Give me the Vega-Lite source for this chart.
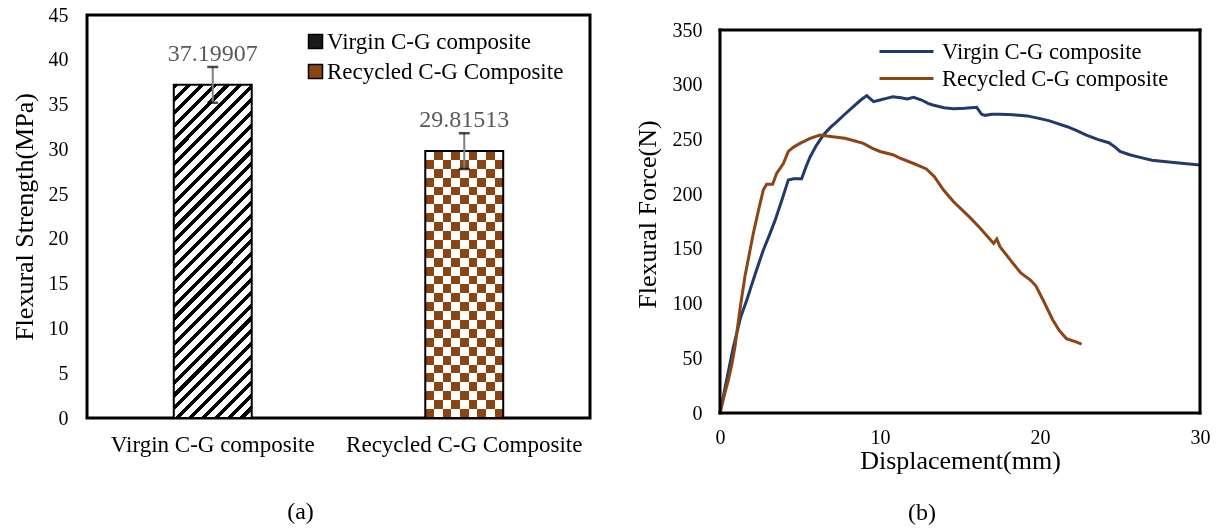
{
  "$schema": "https://vega.github.io/schema/vega-lite/v6.json",
  "padding": {"left": 9, "top": 3, "right": 0, "bottom": 0},
  "spacing": 42,
  "resolve": {"scale": {"color": "independent"}, "legend": {"color": "independent"}},
  "config": {
    "font": "Liberation Serif",
    "view": {"stroke": "black", "strokeWidth": 3},
    "axis": {"grid": false, "domain": false, "ticks": false, "labelColor": "black", "titleColor": "black", "titleFontWeight": "normal", "labelFont": "Liberation Serif", "titleFont": "Liberation Serif"},
    "legend": {"labelFont": "Liberation Serif", "labelColor": "black"},
    "title": {"font": "Liberation Serif", "fontWeight": "normal", "color": "black"}
  },
  "datasets": {
    "bars": [
      {"name": "Virgin C-G composite", "value": 37.19907, "lo": 35.2, "hi": 39.2, "label": "37.19907"},
      {"name": "Recycled C-G Composite", "value": 29.81513, "lo": 27.8, "hi": 31.8, "label": "29.81513"}
    ],
    "frame": [
      {"x": 0, "x2": 0, "y": 0, "y2": 350},
      {"x": 30, "x2": 30, "y": 0, "y2": 350},
      {"x": 0, "x2": 30, "y": 0, "y2": 0},
      {"x": 0, "x2": 30, "y": 350, "y2": 350}
    ],
    "curves": [
      {"series": "Virgin C-G composite", "x": 0, "y": 0},
      {"series": "Virgin C-G composite", "x": 0.3, "y": 22},
      {"series": "Virgin C-G composite", "x": 0.83, "y": 60},
      {"series": "Virgin C-G composite", "x": 1.3, "y": 88},
      {"series": "Virgin C-G composite", "x": 1.67, "y": 103},
      {"series": "Virgin C-G composite", "x": 2.2, "y": 127},
      {"series": "Virgin C-G composite", "x": 2.71, "y": 149},
      {"series": "Virgin C-G composite", "x": 3.1, "y": 163},
      {"series": "Virgin C-G composite", "x": 3.44, "y": 176},
      {"series": "Virgin C-G composite", "x": 3.9, "y": 196},
      {"series": "Virgin C-G composite", "x": 4.27, "y": 213},
      {"series": "Virgin C-G composite", "x": 4.6, "y": 214},
      {"series": "Virgin C-G composite", "x": 5.1, "y": 214},
      {"series": "Virgin C-G composite", "x": 5.4, "y": 226},
      {"series": "Virgin C-G composite", "x": 5.63, "y": 234},
      {"series": "Virgin C-G composite", "x": 6.0, "y": 244},
      {"series": "Virgin C-G composite", "x": 6.46, "y": 254},
      {"series": "Virgin C-G composite", "x": 6.9, "y": 261},
      {"series": "Virgin C-G composite", "x": 7.29, "y": 266},
      {"series": "Virgin C-G composite", "x": 7.8, "y": 273},
      {"series": "Virgin C-G composite", "x": 8.33, "y": 280},
      {"series": "Virgin C-G composite", "x": 8.8, "y": 286},
      {"series": "Virgin C-G composite", "x": 9.17, "y": 290},
      {"series": "Virgin C-G composite", "x": 9.4, "y": 287},
      {"series": "Virgin C-G composite", "x": 9.6, "y": 284.5},
      {"series": "Virgin C-G composite", "x": 10.0, "y": 286},
      {"series": "Virgin C-G composite", "x": 10.4, "y": 287.5},
      {"series": "Virgin C-G composite", "x": 10.8, "y": 289},
      {"series": "Virgin C-G composite", "x": 11.3, "y": 288},
      {"series": "Virgin C-G composite", "x": 11.7, "y": 287},
      {"series": "Virgin C-G composite", "x": 12.1, "y": 288.5},
      {"series": "Virgin C-G composite", "x": 12.6, "y": 286},
      {"series": "Virgin C-G composite", "x": 13.0, "y": 283},
      {"series": "Virgin C-G composite", "x": 13.3, "y": 281.5},
      {"series": "Virgin C-G composite", "x": 14.0, "y": 279},
      {"series": "Virgin C-G composite", "x": 14.6, "y": 278},
      {"series": "Virgin C-G composite", "x": 15.3, "y": 278.5},
      {"series": "Virgin C-G composite", "x": 16.04, "y": 279.3},
      {"series": "Virgin C-G composite", "x": 16.2, "y": 276},
      {"series": "Virgin C-G composite", "x": 16.35, "y": 273},
      {"series": "Virgin C-G composite", "x": 16.56, "y": 272},
      {"series": "Virgin C-G composite", "x": 17.0, "y": 273},
      {"series": "Virgin C-G composite", "x": 17.5, "y": 273},
      {"series": "Virgin C-G composite", "x": 18.3, "y": 272.5},
      {"series": "Virgin C-G composite", "x": 19.2, "y": 271.5},
      {"series": "Virgin C-G composite", "x": 20.0, "y": 269},
      {"series": "Virgin C-G composite", "x": 20.6, "y": 267},
      {"series": "Virgin C-G composite", "x": 21.2, "y": 264},
      {"series": "Virgin C-G composite", "x": 21.7, "y": 261.6},
      {"series": "Virgin C-G composite", "x": 22.3, "y": 258},
      {"series": "Virgin C-G composite", "x": 22.9, "y": 254},
      {"series": "Virgin C-G composite", "x": 23.6, "y": 250},
      {"series": "Virgin C-G composite", "x": 24.3, "y": 247},
      {"series": "Virgin C-G composite", "x": 24.7, "y": 243},
      {"series": "Virgin C-G composite", "x": 25.0, "y": 239},
      {"series": "Virgin C-G composite", "x": 25.6, "y": 236},
      {"series": "Virgin C-G composite", "x": 26.25, "y": 233.6},
      {"series": "Virgin C-G composite", "x": 27.0, "y": 231},
      {"series": "Virgin C-G composite", "x": 27.9, "y": 229.7},
      {"series": "Virgin C-G composite", "x": 29.0, "y": 228},
      {"series": "Virgin C-G composite", "x": 30.0, "y": 226.6},
      {"series": "Recycled C-G  composite", "x": 0, "y": 0},
      {"series": "Recycled C-G  composite", "x": 0.25, "y": 15},
      {"series": "Recycled C-G  composite", "x": 0.52, "y": 30},
      {"series": "Recycled C-G  composite", "x": 0.75, "y": 45},
      {"series": "Recycled C-G  composite", "x": 0.94, "y": 61},
      {"series": "Recycled C-G  composite", "x": 1.25, "y": 95},
      {"series": "Recycled C-G  composite", "x": 1.56, "y": 125},
      {"series": "Recycled C-G  composite", "x": 2.08, "y": 164},
      {"series": "Recycled C-G  composite", "x": 2.4, "y": 185},
      {"series": "Recycled C-G  composite", "x": 2.71, "y": 204},
      {"series": "Recycled C-G  composite", "x": 2.92, "y": 209},
      {"series": "Recycled C-G  composite", "x": 3.29, "y": 209},
      {"series": "Recycled C-G  composite", "x": 3.54, "y": 219},
      {"series": "Recycled C-G  composite", "x": 3.96, "y": 228},
      {"series": "Recycled C-G  composite", "x": 4.27, "y": 239},
      {"series": "Recycled C-G  composite", "x": 4.6, "y": 243},
      {"series": "Recycled C-G  composite", "x": 5.0, "y": 246.4},
      {"series": "Recycled C-G  composite", "x": 5.63, "y": 251},
      {"series": "Recycled C-G  composite", "x": 6.25, "y": 254},
      {"series": "Recycled C-G  composite", "x": 6.8, "y": 253},
      {"series": "Recycled C-G  composite", "x": 7.3, "y": 252},
      {"series": "Recycled C-G  composite", "x": 7.8, "y": 251},
      {"series": "Recycled C-G  composite", "x": 8.33, "y": 249},
      {"series": "Recycled C-G  composite", "x": 8.96, "y": 246.4},
      {"series": "Recycled C-G  composite", "x": 9.5, "y": 242},
      {"series": "Recycled C-G  composite", "x": 10.0, "y": 239},
      {"series": "Recycled C-G  composite", "x": 10.8, "y": 236},
      {"series": "Recycled C-G  composite", "x": 11.25, "y": 233},
      {"series": "Recycled C-G  composite", "x": 12.1, "y": 228},
      {"series": "Recycled C-G  composite", "x": 12.9, "y": 223},
      {"series": "Recycled C-G  composite", "x": 13.4, "y": 216},
      {"series": "Recycled C-G  composite", "x": 13.96, "y": 204},
      {"series": "Recycled C-G  composite", "x": 14.6, "y": 193},
      {"series": "Recycled C-G  composite", "x": 15.6, "y": 179},
      {"series": "Recycled C-G  composite", "x": 16.25, "y": 169},
      {"series": "Recycled C-G  composite", "x": 17.1, "y": 155},
      {"series": "Recycled C-G  composite", "x": 17.3, "y": 159},
      {"series": "Recycled C-G  composite", "x": 17.5, "y": 152},
      {"series": "Recycled C-G  composite", "x": 18.3, "y": 137},
      {"series": "Recycled C-G  composite", "x": 18.8, "y": 128},
      {"series": "Recycled C-G  composite", "x": 19.4, "y": 121.5},
      {"series": "Recycled C-G  composite", "x": 19.75, "y": 116},
      {"series": "Recycled C-G  composite", "x": 20.2, "y": 103},
      {"series": "Recycled C-G  composite", "x": 20.8, "y": 85},
      {"series": "Recycled C-G  composite", "x": 21.2, "y": 75.5},
      {"series": "Recycled C-G  composite", "x": 21.65, "y": 68},
      {"series": "Recycled C-G  composite", "x": 22.25, "y": 65},
      {"series": "Recycled C-G  composite", "x": 22.6, "y": 63}
    ]
  },
  "hconcat": [
    {
      "width": 503,
      "height": 403,
      "title": {"text": "(a)", "orient": "bottom", "anchor": "middle", "frame": "bounds", "fontSize": 24, "offset": 44},
      "data": {"name": "bars"},
      "encoding": {
        "x": {"field": "name", "type": "nominal",
          "scale": {"domain": ["Virgin C-G composite", "Recycled C-G Composite"], "paddingInner": 0.69, "paddingOuter": 0.345},
          "axis": {"title": null, "labelAngle": 0, "labelFontSize": 23, "labelPadding": 15, "labelLimit": 0}},
        "y": {"field": "value", "type": "quantitative",
          "scale": {"domain": [0, 45], "nice": false},
          "axis": {"title": "Flexural Strength(MPa)", "values": [0, 5, 10, 15, 20, 25, 30, 35, 40, 45], "labelFontSize": 20, "labelPadding": 19, "titleFontSize": 26, "titlePadding": 11}}
      },
      "layer": [
        {
          "mark": {"type": "point", "shape": "square", "filled": true, "opacity": 0},
          "encoding": {
            "color": {"field": "name", "type": "nominal",
              "scale": {"domain": ["Virgin C-G composite", "Recycled C-G Composite"], "range": ["#1a1a1a", "#8B4513"]},
              "legend": {"title": null, "orient": "none", "legendX": 217, "legendY": 15, "padding": 0, "symbolType": "square", "symbolSize": 196, "labelFontSize": 23, "labelOffset": 0, "rowPadding": 6, "labelLimit": 0,
                "encoding": {"symbols": {
                  "opacity": {"value": 1},
                  "stroke": {"value": "black"},
                  "strokeWidth": {"value": 1.5}
                }}}
            }
          }
        },
        {
          "transform": [{"filter": "datum.name === 'Virgin C-G composite'"}],
          "mark": {"type": "bar", "stroke": "black", "strokeWidth": 2,
            "fill": {"gradient": "linear", "x1": 0, "y1": 0, "x2": 0.274, "y2": 1.17, "stops": [
              {"offset": 0, "color": "#000"}, {"offset": 0.0125, "color": "#000"}, {"offset": 0.0125, "color": "#fff"}, {"offset": 0.03125, "color": "#fff"},
              {"offset": 0.03125, "color": "#000"}, {"offset": 0.04375, "color": "#000"}, {"offset": 0.04375, "color": "#fff"}, {"offset": 0.0625, "color": "#fff"},
              {"offset": 0.0625, "color": "#000"}, {"offset": 0.075, "color": "#000"}, {"offset": 0.075, "color": "#fff"}, {"offset": 0.09375, "color": "#fff"},
              {"offset": 0.09375, "color": "#000"}, {"offset": 0.10625, "color": "#000"}, {"offset": 0.10625, "color": "#fff"}, {"offset": 0.125, "color": "#fff"},
              {"offset": 0.125, "color": "#000"}, {"offset": 0.1375, "color": "#000"}, {"offset": 0.1375, "color": "#fff"}, {"offset": 0.15625, "color": "#fff"},
              {"offset": 0.15625, "color": "#000"}, {"offset": 0.16875, "color": "#000"}, {"offset": 0.16875, "color": "#fff"}, {"offset": 0.1875, "color": "#fff"},
              {"offset": 0.1875, "color": "#000"}, {"offset": 0.2, "color": "#000"}, {"offset": 0.2, "color": "#fff"}, {"offset": 0.21875, "color": "#fff"},
              {"offset": 0.21875, "color": "#000"}, {"offset": 0.23125, "color": "#000"}, {"offset": 0.23125, "color": "#fff"}, {"offset": 0.25, "color": "#fff"},
              {"offset": 0.25, "color": "#000"}, {"offset": 0.2625, "color": "#000"}, {"offset": 0.2625, "color": "#fff"}, {"offset": 0.28125, "color": "#fff"},
              {"offset": 0.28125, "color": "#000"}, {"offset": 0.29375, "color": "#000"}, {"offset": 0.29375, "color": "#fff"}, {"offset": 0.3125, "color": "#fff"},
              {"offset": 0.3125, "color": "#000"}, {"offset": 0.325, "color": "#000"}, {"offset": 0.325, "color": "#fff"}, {"offset": 0.34375, "color": "#fff"},
              {"offset": 0.34375, "color": "#000"}, {"offset": 0.35625, "color": "#000"}, {"offset": 0.35625, "color": "#fff"}, {"offset": 0.375, "color": "#fff"},
              {"offset": 0.375, "color": "#000"}, {"offset": 0.3875, "color": "#000"}, {"offset": 0.3875, "color": "#fff"}, {"offset": 0.40625, "color": "#fff"},
              {"offset": 0.40625, "color": "#000"}, {"offset": 0.41875, "color": "#000"}, {"offset": 0.41875, "color": "#fff"}, {"offset": 0.4375, "color": "#fff"},
              {"offset": 0.4375, "color": "#000"}, {"offset": 0.45, "color": "#000"}, {"offset": 0.45, "color": "#fff"}, {"offset": 0.46875, "color": "#fff"},
              {"offset": 0.46875, "color": "#000"}, {"offset": 0.48125, "color": "#000"}, {"offset": 0.48125, "color": "#fff"}, {"offset": 0.5, "color": "#fff"},
              {"offset": 0.5, "color": "#000"}, {"offset": 0.5125, "color": "#000"}, {"offset": 0.5125, "color": "#fff"}, {"offset": 0.53125, "color": "#fff"},
              {"offset": 0.53125, "color": "#000"}, {"offset": 0.54375, "color": "#000"}, {"offset": 0.54375, "color": "#fff"}, {"offset": 0.5625, "color": "#fff"},
              {"offset": 0.5625, "color": "#000"}, {"offset": 0.575, "color": "#000"}, {"offset": 0.575, "color": "#fff"}, {"offset": 0.59375, "color": "#fff"},
              {"offset": 0.59375, "color": "#000"}, {"offset": 0.60625, "color": "#000"}, {"offset": 0.60625, "color": "#fff"}, {"offset": 0.625, "color": "#fff"},
              {"offset": 0.625, "color": "#000"}, {"offset": 0.6375, "color": "#000"}, {"offset": 0.6375, "color": "#fff"}, {"offset": 0.65625, "color": "#fff"},
              {"offset": 0.65625, "color": "#000"}, {"offset": 0.66875, "color": "#000"}, {"offset": 0.66875, "color": "#fff"}, {"offset": 0.6875, "color": "#fff"},
              {"offset": 0.6875, "color": "#000"}, {"offset": 0.7, "color": "#000"}, {"offset": 0.7, "color": "#fff"}, {"offset": 0.71875, "color": "#fff"},
              {"offset": 0.71875, "color": "#000"}, {"offset": 0.73125, "color": "#000"}, {"offset": 0.73125, "color": "#fff"}, {"offset": 0.75, "color": "#fff"},
              {"offset": 0.75, "color": "#000"}, {"offset": 0.7625, "color": "#000"}, {"offset": 0.7625, "color": "#fff"}, {"offset": 0.78125, "color": "#fff"},
              {"offset": 0.78125, "color": "#000"}, {"offset": 0.79375, "color": "#000"}, {"offset": 0.79375, "color": "#fff"}, {"offset": 0.8125, "color": "#fff"},
              {"offset": 0.8125, "color": "#000"}, {"offset": 0.825, "color": "#000"}, {"offset": 0.825, "color": "#fff"}, {"offset": 0.84375, "color": "#fff"},
              {"offset": 0.84375, "color": "#000"}, {"offset": 0.85625, "color": "#000"}, {"offset": 0.85625, "color": "#fff"}, {"offset": 0.875, "color": "#fff"},
              {"offset": 0.875, "color": "#000"}, {"offset": 0.8875, "color": "#000"}, {"offset": 0.8875, "color": "#fff"}, {"offset": 0.90625, "color": "#fff"},
              {"offset": 0.90625, "color": "#000"}, {"offset": 0.91875, "color": "#000"}, {"offset": 0.91875, "color": "#fff"}, {"offset": 0.9375, "color": "#fff"},
              {"offset": 0.9375, "color": "#000"}, {"offset": 0.95, "color": "#000"}, {"offset": 0.95, "color": "#fff"}, {"offset": 0.96875, "color": "#fff"},
              {"offset": 0.96875, "color": "#000"}, {"offset": 0.98125, "color": "#000"}, {"offset": 0.98125, "color": "#fff"}, {"offset": 1, "color": "#fff"}
            ]}},
          "encoding": {}
        },
        {
          "transform": [{"filter": "datum.name === 'Recycled C-G Composite'"}],
          "mark": {"type": "bar",
            "fill": {"gradient": "linear", "x1": 0, "y1": 0, "x2": 0, "y2": 1, "stops": [
              {"offset": 0, "color": "#000"}, {"offset": 0.0333, "color": "#000"}, {"offset": 0.0333, "color": "#fff"}, {"offset": 0.0667, "color": "#fff"},
              {"offset": 0.0667, "color": "#000"}, {"offset": 0.1, "color": "#000"}, {"offset": 0.1, "color": "#fff"}, {"offset": 0.1333, "color": "#fff"},
              {"offset": 0.1333, "color": "#000"}, {"offset": 0.1667, "color": "#000"}, {"offset": 0.1667, "color": "#fff"}, {"offset": 0.2, "color": "#fff"},
              {"offset": 0.2, "color": "#000"}, {"offset": 0.2333, "color": "#000"}, {"offset": 0.2333, "color": "#fff"}, {"offset": 0.2667, "color": "#fff"},
              {"offset": 0.2667, "color": "#000"}, {"offset": 0.3, "color": "#000"}, {"offset": 0.3, "color": "#fff"}, {"offset": 0.3333, "color": "#fff"},
              {"offset": 0.3333, "color": "#000"}, {"offset": 0.3667, "color": "#000"}, {"offset": 0.3667, "color": "#fff"}, {"offset": 0.4, "color": "#fff"},
              {"offset": 0.4, "color": "#000"}, {"offset": 0.4333, "color": "#000"}, {"offset": 0.4333, "color": "#fff"}, {"offset": 0.4667, "color": "#fff"},
              {"offset": 0.4667, "color": "#000"}, {"offset": 0.5, "color": "#000"}, {"offset": 0.5, "color": "#fff"}, {"offset": 0.5333, "color": "#fff"},
              {"offset": 0.5333, "color": "#000"}, {"offset": 0.5667, "color": "#000"}, {"offset": 0.5667, "color": "#fff"}, {"offset": 0.6, "color": "#fff"},
              {"offset": 0.6, "color": "#000"}, {"offset": 0.6333, "color": "#000"}, {"offset": 0.6333, "color": "#fff"}, {"offset": 0.6667, "color": "#fff"},
              {"offset": 0.6667, "color": "#000"}, {"offset": 0.7, "color": "#000"}, {"offset": 0.7, "color": "#fff"}, {"offset": 0.7333, "color": "#fff"},
              {"offset": 0.7333, "color": "#000"}, {"offset": 0.7667, "color": "#000"}, {"offset": 0.7667, "color": "#fff"}, {"offset": 0.8, "color": "#fff"},
              {"offset": 0.8, "color": "#000"}, {"offset": 0.8333, "color": "#000"}, {"offset": 0.8333, "color": "#fff"}, {"offset": 0.8667, "color": "#fff"},
              {"offset": 0.8667, "color": "#000"}, {"offset": 0.9, "color": "#000"}, {"offset": 0.9, "color": "#fff"}, {"offset": 0.9333, "color": "#fff"},
              {"offset": 0.9333, "color": "#000"}, {"offset": 0.9667, "color": "#000"}, {"offset": 0.9667, "color": "#fff"}, {"offset": 1, "color": "#fff"}
            ]}},
          "encoding": {}
        },
        {
          "transform": [{"filter": "datum.name === 'Recycled C-G Composite'"}],
          "mark": {"type": "bar", "blend": "difference",
            "fill": {"gradient": "linear", "x1": 0, "y1": 0, "x2": 1, "y2": 0, "stops": [
              {"offset": 0, "color": "#fff"}, {"offset": 0.1111, "color": "#fff"}, {"offset": 0.1111, "color": "#000"}, {"offset": 0.2222, "color": "#000"},
              {"offset": 0.2222, "color": "#fff"}, {"offset": 0.3333, "color": "#fff"}, {"offset": 0.3333, "color": "#000"}, {"offset": 0.4444, "color": "#000"},
              {"offset": 0.4444, "color": "#fff"}, {"offset": 0.5556, "color": "#fff"}, {"offset": 0.5556, "color": "#000"}, {"offset": 0.6667, "color": "#000"},
              {"offset": 0.6667, "color": "#fff"}, {"offset": 0.7778, "color": "#fff"}, {"offset": 0.7778, "color": "#000"}, {"offset": 0.8889, "color": "#000"},
              {"offset": 0.8889, "color": "#fff"}, {"offset": 1, "color": "#fff"}
            ]}},
          "encoding": {}
        },
        {
          "transform": [{"filter": "datum.name === 'Recycled C-G Composite'"}],
          "mark": {"type": "bar", "blend": "screen", "fill": "#8B4513"},
          "encoding": {}
        },
        {
          "transform": [{"filter": "datum.name === 'Recycled C-G Composite'"}],
          "mark": {"type": "bar", "fill": "white", "fillOpacity": 0, "stroke": "black", "strokeWidth": 2},
          "encoding": {}
        },
        {
          "mark": {"type": "rule", "color": "#808080", "strokeWidth": 2},
          "encoding": {
            "y": {"field": "lo", "type": "quantitative", "title": "Flexural Strength(MPa)"},
            "y2": {"field": "hi"}
          }
        },
        {
          "mark": {"type": "tick", "color": "black", "thickness": 2.5, "size": 11},
          "encoding": {"y": {"field": "hi", "type": "quantitative", "title": "Flexural Strength(MPa)"}}
        },
        {
          "mark": {"type": "tick", "color": "black", "thickness": 2.5, "size": 11},
          "encoding": {"y": {"field": "lo", "type": "quantitative", "title": "Flexural Strength(MPa)"}}
        },
        {
          "mark": {"type": "text", "dy": -31, "fontSize": 24, "color": "#595959", "baseline": "middle"},
          "encoding": {"text": {"field": "label", "type": "nominal"}}
        }
      ]
    },
    {
      "width": 480,
      "height": 398,
      "view": {"stroke": null},
      "title": {"text": "(b)", "orient": "bottom", "anchor": "middle", "frame": "bounds", "fontSize": 24, "offset": 28},
      "layer": [
        {
          "data": {"name": "curves"},
          "mark": {"type": "line", "strokeWidth": 3},
          "encoding": {
            "x": {"field": "x", "type": "quantitative", "scale": {"domain": [0, 30], "nice": false},
              "axis": {"title": "Displacement(mm)", "values": [0, 10, 20, 30], "labelFontSize": 20, "labelPadding": 14, "titleFontSize": 26, "titlePadding": 0, "labelFlush": false}},
            "y": {"field": "y", "type": "quantitative", "scale": {"domain": [0, 363.71], "nice": false},
              "axis": {"title": "Flexural Force(N)", "values": [0, 50, 100, 150, 200, 250, 300, 350], "labelFontSize": 20, "labelPadding": 18, "titleFontSize": 26, "titlePadding": 12}},
            "color": {"field": "series", "type": "nominal",
              "scale": {"domain": ["Virgin C-G composite", "Recycled C-G  composite"], "range": ["#223a6b", "#8c4515"]},
              "legend": {"title": null, "orient": "none", "legendX": 175, "legendY": 25, "padding": 0, "symbolType": "M-2.7,0H2.7", "symbolSize": 400, "symbolStrokeWidth": 3, "labelFontSize": 22.5, "labelOffset": 24, "rowPadding": 4, "labelLimit": 0}}
          }
        },
        {
          "data": {"name": "frame"},
          "mark": {"type": "rule", "color": "black", "strokeWidth": 3, "strokeCap": "square"},
          "encoding": {
            "x": {"field": "x", "type": "quantitative"},
            "x2": {"field": "x2"},
            "y": {"field": "y", "type": "quantitative"},
            "y2": {"field": "y2"}
          }
        }
      ]
    }
  ]
}
